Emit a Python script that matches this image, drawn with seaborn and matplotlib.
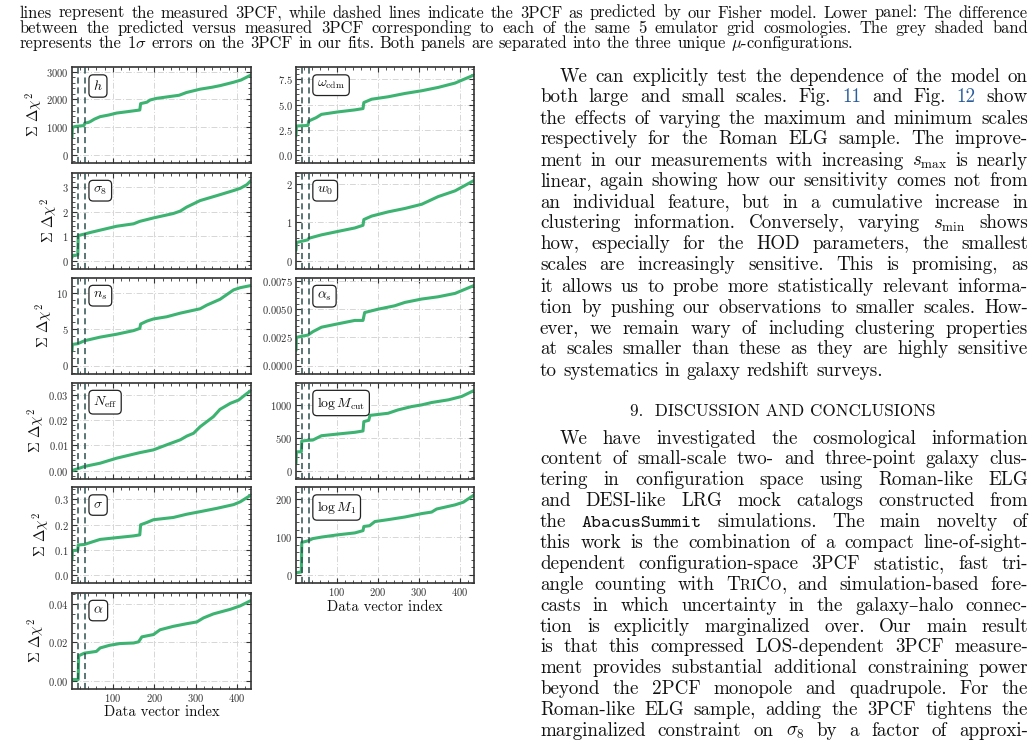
import matplotlib
matplotlib.use("Agg")
import matplotlib.pyplot as plt
import seaborn as sns
from matplotlib.ticker import MaxNLocator, MultipleLocator, AutoMinorLocator

# ---------------- data ----------------
xlim_idx = (1, 434)
vlines_idx = [16, 32]

h_x = [1, 2, 10, 30, 32, 40, 45, 55, 69, 90, 109, 130, 150, 165, 167, 182, 190, 206, 240, 260, 278, 311, 340, 360, 392, 410, 434]
h_y = [620, 1000, 1030, 1060, 1150, 1170, 1200, 1290, 1380, 1440, 1510, 1550, 1590, 1620, 1850, 1900, 1980, 2040, 2110, 2150, 2250, 2370, 2440, 2500, 2620, 2700, 2880]

s8_x = [1, 2, 15, 16, 31, 44, 69, 109, 150, 165, 198, 246, 263, 278, 311, 351, 392, 408, 424, 434]
s8_y = [0.12, 0.21, 0.22, 1.02, 1.08, 1.14, 1.24, 1.40, 1.50, 1.60, 1.74, 1.92, 2.02, 2.18, 2.45, 2.65, 2.86, 2.95, 3.10, 3.27]

ns_x = [1, 2, 15, 31, 69, 109, 150, 165, 167, 182, 198, 230, 263, 295, 311, 327, 359, 392, 408, 434]
ns_y = [2.0, 2.9, 3.0, 3.4, 3.9, 4.3, 4.8, 5.1, 5.7, 6.1, 6.4, 6.7, 7.2, 7.6, 7.8, 8.3, 9.1, 10.4, 10.7, 11.0]

neff_x = [1, 15, 31, 69, 109, 165, 198, 230, 263, 279, 295, 311, 327, 343, 359, 384, 404, 424, 434]
neff_y = [0.0, 0.0007, 0.0016, 0.0029, 0.0049, 0.0071, 0.0082, 0.0102, 0.0122, 0.0137, 0.0148, 0.0174, 0.0194, 0.0214, 0.0243, 0.0267, 0.0280, 0.0306, 0.0318]

sig_x = [1, 2, 15, 16, 31, 44, 69, 109, 150, 165, 167, 182, 198, 246, 279, 311, 351, 392, 408, 434]
sig_y = [0.06, 0.097, 0.098, 0.119, 0.121, 0.128, 0.141, 0.148, 0.155, 0.159, 0.199, 0.208, 0.219, 0.228, 0.241, 0.251, 0.264, 0.279, 0.290, 0.317]

alp_x = [1, 16, 17, 31, 60, 69, 92, 117, 150, 162, 170, 198, 214, 246, 279, 303, 319, 343, 384, 408, 434]
alp_y = [0.0005, 0.0005, 0.0129, 0.0143, 0.0152, 0.0170, 0.0184, 0.0193, 0.0196, 0.0202, 0.0228, 0.0240, 0.0265, 0.0283, 0.0297, 0.0306, 0.0327, 0.0348, 0.0372, 0.0390, 0.0418]

wcdm_x = [1, 2, 30, 32, 50, 63, 103, 144, 164, 166, 185, 225, 266, 307, 347, 388, 434]
wcdm_y = [1.9, 2.87, 2.93, 3.37, 3.7, 4.03, 4.27, 4.47, 4.6, 5.2, 5.53, 5.77, 6.1, 6.37, 6.7, 7.13, 7.93]

w0_x = [1, 2, 30, 32, 63, 103, 144, 164, 166, 185, 225, 266, 307, 347, 388, 434]
w0_y = [0.27, 0.47, 0.54, 0.58, 0.67, 0.76, 0.85, 0.92, 1.07, 1.16, 1.27, 1.36, 1.47, 1.67, 1.82, 2.09]

as_x = [1, 2, 30, 42, 63, 103, 144, 164, 168, 201, 241, 266, 307, 347, 388, 434]
as_y = [0.00134, 0.0025, 0.0027, 0.0030, 0.0034, 0.0037, 0.0040, 0.0040, 0.0047, 0.0050, 0.0053, 0.0056, 0.0059, 0.0061, 0.0064, 0.0071]

mcut_x = [1, 2, 14, 15, 30, 42, 63, 103, 144, 164, 166, 178, 181, 225, 249, 282, 307, 331, 372, 404, 434]
mcut_y = [107, 285, 285, 449, 460, 464, 530, 556, 582, 602, 745, 765, 840, 872, 923, 974, 1000, 1036, 1077, 1128, 1219]

m1_x = [1, 14, 15, 30, 42, 63, 103, 144, 164, 166, 180, 193, 225, 266, 307, 331, 343, 388, 408, 434]
m1_y = [6, 8, 86, 90, 96, 100, 106, 111, 117, 128, 130, 141, 146, 153, 162, 166, 174, 185, 192, 211]

left_labels = [r"$h$", r"$\sigma_8$", r"$n_s$", r"$N_{\rm eff}$", r"$\sigma$", r"$\alpha$"]
left_series = [(h_x, h_y), (s8_x, s8_y), (ns_x, ns_y), (neff_x, neff_y), (sig_x, sig_y), (alp_x, alp_y)]
right_labels = [r"$\omega_{\rm cdm}$", r"$w_0$", r"$\alpha_s$", r"$\log M_{\rm cut}$", r"$\log M_1$"]
right_series = [(wcdm_x, wcdm_y), (w0_x, w0_y), (as_x, as_y), (mcut_x, mcut_y), (m1_x, m1_y)]

ylabel_text = r"$\Sigma\ \Delta\chi^2$"
xlabel_text = "Data vector index"

caption_lines = [
    "lines represent the measured 3PCF, while dashed lines indicate the 3PCF as predicted by our Fisher model. Lower panel: The difference",
    "between the predicted versus measured 3PCF corresponding to each of the same 5 emulator grid cosmologies. The grey shaded band",
    r"represents the 1$\sigma$ errors on the 3PCF in our fits. Both panels are separated into the three unique $\mu$-configurations.",
]
para1_lines = [
    "We can explicitly test the dependence of the model on",
    "both large and small scales. Fig. @11 and Fig. @12 show",
    "the effects of varying the maximum and minimum scales",
    "respectively for the Roman ELG sample. The improve-",
    r"ment in our measurements with increasing $s_{\mathrm{max}}$ is nearly",
    "linear, again showing how our sensitivity comes not from",
    "an individual feature, but in a cumulative increase in",
    r"clustering information. Conversely, varying $s_{\mathrm{min}}$ shows",
    "how, especially for the HOD parameters, the smallest",
    "scales are increasingly sensitive. This is promising, as",
    "it allows us to probe more statistically relevant informa-",
    "tion by pushing our observations to smaller scales. How-",
    "ever, we remain wary of including clustering properties",
    "at scales smaller than these as they are highly sensitive",
    "to systematics in galaxy redshift surveys.",
]
heading = "9.  DISCUSSION AND CONCLUSIONS"
para2_lines = [
    "We have investigated the cosmological information",
    "content of small-scale two- and three-point galaxy clus-",
    "tering in configuration space using Roman-like ELG",
    "and DESI-like LRG mock catalogs constructed from",
    "the #tt:AbacusSummit simulations. The main novelty of",
    "this work is the combination of a compact line-of-sight-",
    "dependent configuration-space 3PCF statistic, fast tri-",
    "angle counting with #sc:TriCo, and simulation-based fore-",
    "casts in which uncertainty in the galaxy\u2013halo connec-",
    "tion is explicitly marginalized over. Our main result",
    "is that this compressed LOS-dependent 3PCF measure-",
    "ment provides substantial additional constraining power",
    "beyond the 2PCF monopole and quadrupole. For the",
    "Roman-like ELG sample, adding the 3PCF tightens the",
    r"marginalized constraint on $\sigma_8$ by a factor of approxi-",
]

# ---------------- style ----------------
W, H = 1036, 740
sns.set_theme(style="ticks")
FAM = ["cmr10", "DejaVu Serif"]
plt.rcParams["font.family"] = FAM
plt.rcParams["mathtext.fontset"] = "cm"
plt.rcParams["axes.formatter.use_mathtext"] = True
plt.rcParams["axes.unicode_minus"] = False

GREEN = "#3cb371"
DASH = "#2f4f4f"
TEXT = "#111111"
LINK = "#2a5d9c"

fig = plt.figure(figsize=(W / 100, H / 100), dpi=100)
fig.patch.set_facecolor("white")
renderer = fig.canvas.get_renderer()


def fpos(x, y):
    return x / W, 1 - y / H


def add_panel(left, top, width, height, xs, ys, label, ylabel, xlabel):
    ax = fig.add_axes([left / W, 1 - (top + height) / H, width / W, height / H])
    ax.set_axisbelow(True)
    ax.grid(True, which="major", ls=(0, (6, 2, 1, 2)), color="#d6d6d6", lw=0.7)
    sns.lineplot(x=xs, y=ys, ax=ax, color=GREEN, lw=2.2, sort=False, estimator=None)
    for v in vlines_idx:
        ax.axvline(v, color=DASH, ls=(0, (4, 2.5)), lw=1.1)
    ymax = max(ys)
    ax.set_ylim(-0.1 * ymax, 1.1 * ymax)
    ax.set_xlim(*xlim_idx)
    ax.xaxis.set_major_locator(MultipleLocator(100))
    ax.xaxis.set_minor_locator(AutoMinorLocator())
    ax.yaxis.set_major_locator(MaxNLocator(nbins=4, steps=[1, 2, 2.5, 5, 10]))
    ax.yaxis.set_minor_locator(AutoMinorLocator())
    ax.tick_params(which="both", direction="in", top=True, right=True,
                   labelsize=7.6, colors="#333333", pad=2.5)
    ax.tick_params(which="major", length=3.5, width=0.8)
    ax.tick_params(which="minor", length=2, width=0.6)
    for sp in ax.spines.values():
        sp.set_color("#333333")
        sp.set_linewidth(1.2)
    if xlabel:
        ax.set_xlabel(xlabel_text, fontsize=10.6, color=TEXT, labelpad=1)
    else:
        ax.tick_params(labelbottom=False)
    if ylabel:
        ax.set_ylabel(ylabel_text, fontsize=10.8, color=TEXT, labelpad=1)
    else:
        ax.set_ylabel("")
    ax.text(0.118, 0.875, label, transform=ax.transAxes, fontsize=10, ha="left", va="top",
            color=TEXT,
            bbox=dict(boxstyle="round,pad=0.3,rounding_size=0.3", fc="white", ec="#222222", lw=0.9))
    return ax


left_tops = [67, 172.5, 277.5, 382.5, 487, 592.5]
PH = 96
for i, ((xs, ys), lab) in enumerate(zip(left_series, left_labels)):
    add_panel(72, left_tops[i], 179, PH, xs, ys, lab, True, i == len(left_series) - 1)
for i, ((xs, ys), lab) in enumerate(zip(right_series, right_labels)):
    add_panel(296, left_tops[i], 178, PH, xs, ys, lab, False, i == len(right_series) - 1)


# ---------------- justified page text ----------------
def word_segments(tok, size):
    if tok.startswith("@"):
        return [(tok[1:], dict(color=LINK))]
    if tok.startswith("#tt:"):
        return [(tok[4:], dict(family=["cmtt10", "DejaVu Sans Mono"]))]
    if tok.startswith("#sc:"):
        segs = []
        for ch in tok[4:]:
            if ch.islower():
                segs.append((ch.upper(), dict(size=size * 0.78)))
            else:
                segs.append((ch, {}))
        return segs
    return [(tok, {})]


def place_line(line, x0, x1, yb, size, justify=True):
    toks = [t for t in line.split(" ") if t]
    items, total = [], 0.0
    for tok in toks:
        arts, wsum = [], 0.0
        for s, kw in word_segments(tok, size):
            t = fig.text(0, 0, s, fontsize=kw.get("size", size), family=kw.get("family", FAM),
                         color=kw.get("color", TEXT), ha="left", va="baseline")
            w = t.get_window_extent(renderer).width
            arts.append((t, w))
            wsum += w
        items.append((arts, wsum))
        total += wsum
    n = len(items)
    if justify and n > 1:
        gap = (x1 - x0 - total) / (n - 1)
    else:
        gap = size * 100 / 72 * 0.333
    x = x0
    for arts, wsum in items:
        for t, w in arts:
            t.set_position(fpos(x, yb))
            x += w
        x += gap


CAP_SIZE = 11.9
BODY_SIZE = 13.7
for i, ln in enumerate(caption_lines):
    place_line(ln, 20, 1028, 17.5 + 15.2 * i, CAP_SIZE, justify=(i < len(caption_lines) - 1))

for i, ln in enumerate(para1_lines):
    x0 = 560 if i == 0 else 540
    place_line(ln, x0, 1028, 81.5 + 21 * i, BODY_SIZE, justify=(i < len(para1_lines) - 1))

fig.text(*fpos(783, 416.5), heading, fontsize=12.3, family=FAM, color=TEXT, ha="center", va="baseline")

for i, ln in enumerate(para2_lines):
    x0 = 560 if i == 0 else 540
    place_line(ln, x0, 1028, 443.5 + 20.9 * i, BODY_SIZE, justify=True)

fig.savefig("out.png", dpi=100, facecolor="white")
